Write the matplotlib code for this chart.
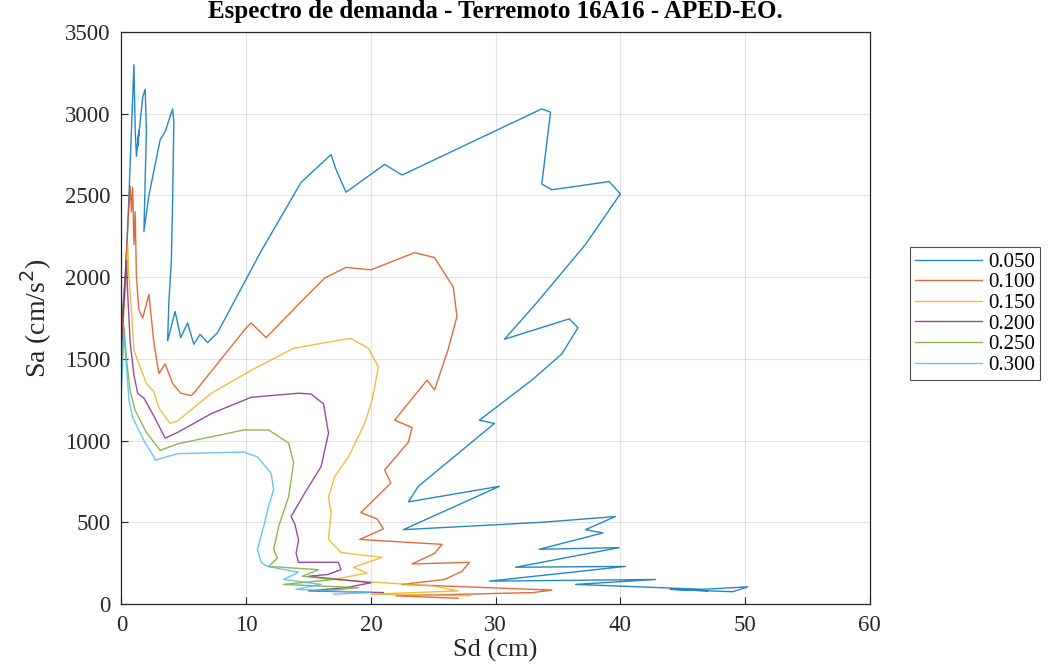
import matplotlib
matplotlib.use("Agg")
import matplotlib.pyplot as plt

# ---- data ----
labels = ["0.050", "0.100", "0.150", "0.200", "0.250", "0.300"]

sd_050 = [0.0, 0.3, 0.5, 0.7, 0.9, 1.0, 1.1, 1.2, 1.4, 1.3, 1.7, 1.9, 2.0, 1.8, 2.2, 3.1, 3.5, 4.1, 4.2, 4.1, 4.0, 3.8, 3.7,
          4.3, 4.75, 5.3, 5.8, 6.3, 6.9, 7.7, 11.2, 14.4, 16.8, 17.2, 18.0, 21.1, 22.5, 33.7, 34.4, 33.7, 34.5, 39.1,
          40.0, 37.2, 33.2, 30.7, 35.9, 36.6, 35.3, 32.9, 28.7, 29.9, 23.8, 23.0, 30.3, 22.6, 33.7, 39.6, 37.2, 38.6,
          33.5, 39.9, 31.6, 40.4, 29.5, 42.8, 36.4, 46.6, 50.2, 49.0, 44.0, 47.0]
sa_050 = [1700, 2000, 2300, 2700, 3100, 3300, 2900, 2740, 2900, 2800, 3100, 3150, 2900, 2280, 2500, 2840, 2890, 3030, 2950,
          2460, 2100, 1850, 1610, 1790, 1630, 1720, 1590, 1650, 1600, 1660, 2160, 2580, 2750, 2660, 2520, 2690, 2625,
          3030, 3010, 2570, 2535, 2585, 2510, 2200, 1835, 1620, 1745, 1690, 1530, 1370, 1125, 1105, 720, 625, 720, 455,
          500, 535, 455, 435, 335, 345, 225, 230, 140, 150, 120, 90, 105, 75, 90, 80]

sd_100 = [0.0, 0.3, 0.5, 0.7, 0.8, 0.9, 1.0, 1.1, 1.2, 1.4, 1.7, 2.2, 2.6, 3.0, 3.5, 4.1, 4.75, 5.6, 5.9, 10.0, 10.4,
          11.6, 14.4, 16.3, 18.0, 20.0, 23.5, 25.1, 26.6, 26.9, 26.2, 25.1, 24.5, 21.9, 23.3, 23.0, 21.1, 21.6, 19.2,
          20.5, 21.0, 19.1, 25.7, 25.1, 23.3, 27.9, 27.3, 25.9, 22.5, 34.5, 33.0, 22.0, 27.0]
sa_100 = [1650, 2000, 2300, 2560, 2400, 2550, 2200, 2400, 2000, 1800, 1750, 1895, 1600, 1410, 1470, 1350, 1290, 1275,
          1300, 1690, 1720, 1630, 1850, 1995, 2060, 2045, 2150, 2120, 1940, 1760, 1560, 1310, 1370, 1125, 1080, 990,
          820, 740, 560, 520, 460, 395, 365, 310, 245, 255, 200, 150, 120, 85, 70, 50, 35]

sd_150 = [0.0, 0.3, 0.5, 0.6, 0.8, 1.0, 1.5, 2.0, 2.6, 3.0, 3.9, 4.5, 7.2, 10.4, 13.8, 17.9, 18.4, 19.8, 20.6, 20.4,
          20.1, 19.5, 18.2, 17.1, 16.6, 16.8, 16.6, 17.6, 20.9, 18.6, 19.7, 17.0, 25.0, 27.0, 20.0, 28.0]
sa_150 = [1600, 1900, 2200, 2000, 1800, 1550, 1450, 1350, 1300, 1200, 1105, 1120, 1290, 1430, 1565, 1620, 1625, 1565,
          1450, 1370, 1250, 1105, 900, 780, 655, 560, 395, 315, 285, 225, 190, 150, 110, 80, 60, 50]

sd_200 = [0.0, 0.2, 0.4, 0.5, 0.7, 1.0, 1.3, 1.8, 2.6, 3.5, 4.5, 7.2, 10.4, 14.2, 15.2, 16.2, 16.6, 16.0, 14.7, 13.6,
          13.9, 14.2, 14.0, 14.2, 17.4, 17.6, 16.5, 15.0, 20.0, 18.0, 15.0, 21.0]
sa_200 = [1500, 1850, 2100, 1900, 1600, 1400, 1290, 1260, 1150, 1015, 1050, 1165, 1265, 1290, 1285, 1225, 1045, 840,
          680, 535, 490, 390, 310, 255, 255, 210, 180, 170, 130, 100, 80, 70]

sd_250 = [0.0, 0.2, 0.4, 0.7, 1.1, 2.0, 3.1, 4.5, 9.8, 11.8, 13.4, 13.8, 13.4, 12.6, 12.4, 12.2, 12.5, 11.8, 15.8,
          14.5, 17.0, 13.0, 19.0, 16.0]
sa_250 = [1400, 1700, 1500, 1300, 1185, 1050, 940, 980, 1065, 1065, 985, 865, 655, 475, 400, 335, 280, 230, 210, 170,
          150, 120, 100, 80]

sd_300 = [0.0, 0.2, 0.4, 0.6, 0.9, 1.8, 2.6, 2.7, 4.5, 9.8, 10.9, 12.0, 12.2, 11.8, 11.4, 10.9, 11.2, 11.7, 14.2,
          13.0, 16.0, 14.0, 20.0, 17.0]
sa_300 = [1300, 1650, 1450, 1250, 1140, 1000, 900, 880, 920, 930, 900, 800, 700, 600, 475, 335, 255, 230, 195, 150,
          120, 90, 70, 60]

x_ticks = [0, 10, 20, 30, 40, 50, 60]
y_ticks = [0, 500, 1000, 1500, 2000, 2500, 3000, 3500]

colors = ["#0072BD", "#D95319", "#EDB120", "#7E2F8E", "#77AC30", "#4DBEEE"]

series = [(sd_050, sa_050), (sd_100, sa_100), (sd_150, sa_150),
          (sd_200, sa_200), (sd_250, sa_250), (sd_300, sa_300)]

plt.rcParams['font.family'] = ['Liberation Serif', 'DejaVu Serif']

fig = plt.figure(figsize=(10.48, 6.68), dpi=100)
ax = fig.add_axes([0.1159, 0.0958, 0.830 - 0.1159, 0.952 - 0.0958])

for (sd, sa), c, lab in zip(series, colors, labels):
    ax.plot(sd, sa, color=c, lw=1.0, alpha=0.85, label=lab)

ax.set_xlim(0, 60)
ax.set_ylim(0, 3500)
ax.set_xticks(x_ticks)
ax.set_yticks(y_ticks)
ax.tick_params(direction='in', labelsize=16.5, colors='#262626', length=5, width=0.8,
               top=False, right=False)
ax.tick_params(axis='y', pad=8)
ax.tick_params(axis='x', pad=8)
ax.grid(True, color='#262626', alpha=0.12, lw=0.8)
for s in ax.spines.values():
    s.set_color('#262626')
    s.set_linewidth(0.9)

ax.set_xlabel("Sd (cm)", fontsize=19, color='#262626', labelpad=2)
ax.set_ylabel("Sa (cm/s$^2$)", fontsize=20, color='#262626', labelpad=8)
ax.set_title("Espectro de demanda - Terremoto 16A16 - APED-EO.", fontsize=18, fontweight='bold', pad=10)

leg = fig.legend(loc='upper left', bbox_to_anchor=(0.8683, 0.6302), fontsize=15,
                 frameon=True, fancybox=False, edgecolor='#262626', handlelength=3.2,
                 borderpad=0.25, labelspacing=0.05, handletextpad=0.3, borderaxespad=0)
leg.get_frame().set_linewidth(0.8)

fig.savefig("out.png", dpi=100)
